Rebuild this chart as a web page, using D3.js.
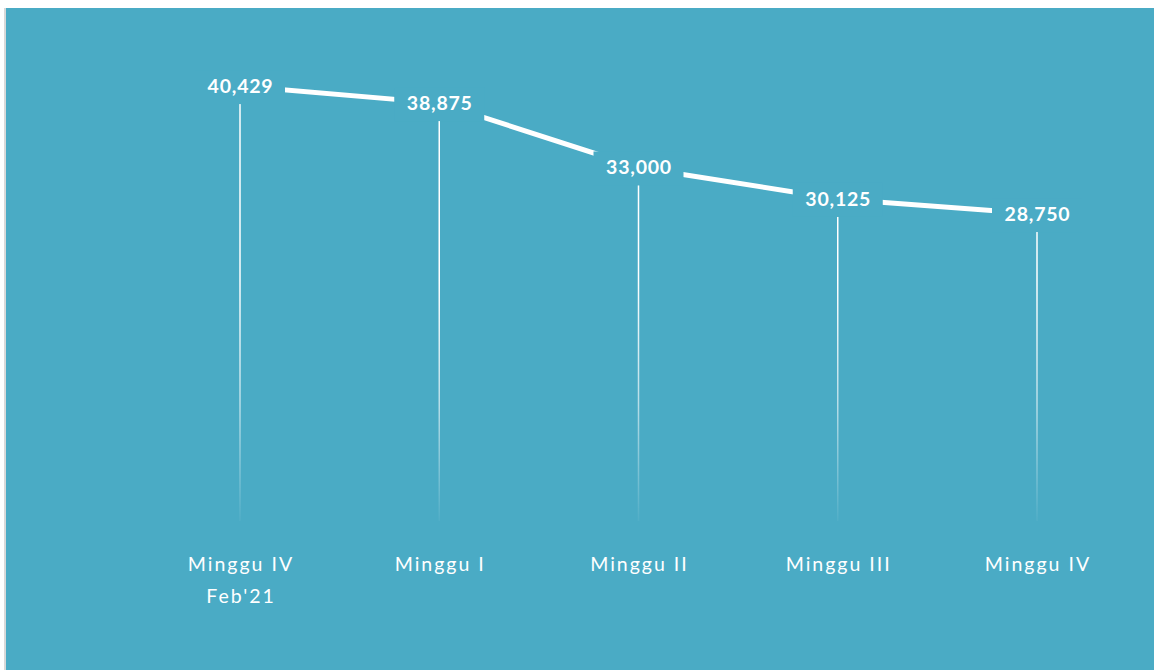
<!DOCTYPE html>
<html>
<head>
<meta charset="utf-8">
<script src="https://cdn.jsdelivr.net/npm/d3@7"></script>
<style>
  html, body { margin: 0; padding: 0; background: #fff; }
  svg { display: block; }
</style>
</head>
<body>
<svg id="chart" width="1155" height="670"></svg>
<script>
// data
const categories = [["Minggu IV", "Feb'21"], ["Minggu I"], ["Minggu II"], ["Minggu III"], ["Minggu IV"]];
const values = [40429, 38875, 33000, 30125, 28750];

const width = 1155, height = 670;
const svg = d3.select("#chart");
const bg = "#4aabc5";

// panel
svg.append("rect")
  .attr("x", 4).attr("y", 8)
  .attr("width", width - 5).attr("height", height - 8)
  .attr("fill", "#d9d9d9");
svg.append("rect")
  .attr("x", 6).attr("y", 8)
  .attr("width", width - 7).attr("height", height - 8)
  .attr("fill", bg);

// scales
const x = d3.scalePoint()
  .domain(d3.range(categories.length))
  .range([240, 1037]);
const y = d3.scaleLinear()
  .domain([0, 45000])
  .range([529, 36]);

// fade for drop lines
const defs = svg.append("defs");
const grad = defs.append("linearGradient")
  .attr("id", "fade")
  .attr("gradientUnits", "userSpaceOnUse")
  .attr("x1", 0).attr("y1", 280).attr("x2", 0).attr("y2", y(0));
grad.append("stop").attr("offset", "0%").attr("stop-color", "#fff").attr("stop-opacity", 1);
grad.append("stop").attr("offset", "50%").attr("stop-color", "#fff").attr("stop-opacity", 0.6);
grad.append("stop").attr("offset", "100%").attr("stop-color", "#fff").attr("stop-opacity", 0);

const g = svg.append("g");

// drop lines
g.selectAll("line.drop")
  .data(values)
  .join("line")
  .attr("class", "drop")
  .attr("x1", (d, i) => x(i)).attr("x2", (d, i) => x(i))
  .attr("y1", d => y(d)).attr("y2", y(0) - 8)
  .attr("stroke", "url(#fade)")
  .attr("stroke-width", 1.5);

// series line
const line = d3.line()
  .x((d, i) => x(i))
  .y(d => y(d));
g.append("path")
  .datum(values)
  .attr("d", line)
  .attr("fill", "none")
  .attr("stroke", "#fff")
  .attr("stroke-width", 5);

// data labels with background boxes
const fmt = d3.format(",");
const lab = g.selectAll("g.lab")
  .data(values)
  .join("g")
  .attr("class", "lab")
  .attr("transform", (d, i) => `translate(${x(i)},${y(d)})`);
lab.append("rect")
  .attr("x", -45).attr("y", -16)
  .attr("width", 90).attr("height", 34)
  .attr("fill", bg);
lab.append("text")
  .attr("x", 0.5)
  .attr("text-anchor", "middle")
  .attr("dy", "0.36em")
  .attr("fill", "#fff")
  .attr("font-family", "Lato, 'Open Sans', sans-serif")
  .attr("font-weight", "bold")
  .attr("font-size", "19.5px")
  .attr("letter-spacing", "0.8px")
  .text(d => fmt(d));

// category labels
const cat = g.selectAll("text.cat")
  .data(categories)
  .join("text")
  .attr("class", "cat")
  .attr("x", (d, i) => x(i) + 1)
  .attr("y", 571)
  .attr("text-anchor", "middle")
  .attr("fill", "#fff")
  .attr("font-family", "Lato, 'Open Sans', sans-serif")
  .attr("font-size", "19.5px")
  .attr("letter-spacing", "2px");
cat.selectAll("tspan")
  .data(d => d)
  .join("tspan")
  .attr("x", function () { return d3.select(this.parentNode).attr("x"); })
  .attr("dy", (d, i) => i ? "1.65em" : 0)
  .text(d => d);
</script>
</body>
</html>
